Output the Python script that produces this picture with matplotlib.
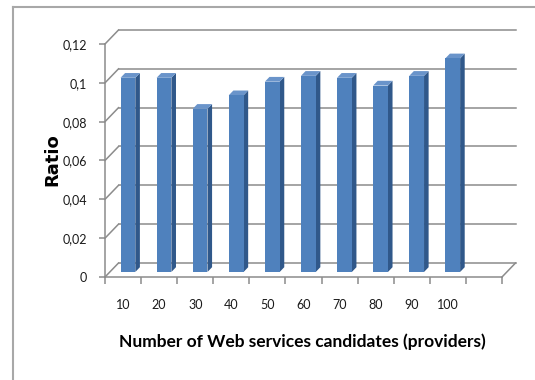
import numpy as np
import matplotlib
matplotlib.use("Agg")
import matplotlib.pyplot as plt
from matplotlib.patches import Polygon
from matplotlib.lines import Line2D

# data
categories = ["10", "20", "30", "40", "50", "60", "70", "80", "90", "100", ""]
ratio = [0.100, 0.100, 0.084, 0.091, 0.098, 0.101, 0.100, 0.096, 0.101, 0.110]
yticks = [0, 0.02, 0.04, 0.06, 0.08, 0.10, 0.12]
ytick_labels = ["0", "0,02", "0,04", "0,06", "0,08", "0,1", "0,12"]

# colours (Excel 2007 style)
c_front = "#4f81bd"
c_side = "#30588a"
c_top = "#6a94ca"
c_grid = "#8c8c8c"

W, H = 535, 380
fig = plt.figure(figsize=(W / 100, H / 100), dpi=100)
# front plane of the 3d box in pixels: x 105..502, y 277..44
ax = fig.add_axes([105 / W, (H - 277) / H, (502 - 105) / W, (277 - 44) / H])
ncat = len(categories)
ax.set_xlim(0, ncat)
ax.set_ylim(0, 0.12)

# depth of the box in data units
dx = 13.5 * ncat / (502 - 105)
dy = 14 * 0.12 / (277 - 44)

# back wall + side wall gridlines
for v in yticks:
    ax.plot([dx, ncat + dx], [v + dy, v + dy], color=c_grid, lw=1.1, zorder=1, clip_on=False)
    ax.plot([0, dx], [v, v + dy], color=c_grid, lw=1.1, zorder=1, clip_on=False)
# right edge of the floor
ax.plot([ncat, ncat + dx], [0, dy], color=c_grid, lw=1.1, zorder=1, clip_on=False)

# bars: front face, side and top
f0, f1 = 0.36, 0.70
bw = 0.41
x = np.arange(len(ratio)) + 0.5
ox, oy = f0 * dx, f0 * dy
ddx, ddy = (f1 - f0) * dx, (f1 - f0) * dy
ax.bar(x + ox, ratio, width=bw, bottom=oy, color=c_front, zorder=3, clip_on=False)
for xi, v in zip(x, ratio):
    xl = xi + ox - bw / 2
    xr = xi + ox + bw / 2
    b = oy
    side = Polygon([(xr, b), (xr, b + v), (xr + ddx, b + v + ddy), (xr + ddx, b + ddy)],
                   closed=True, facecolor=c_side, edgecolor="none", zorder=2, clip_on=False)
    top = Polygon([(xl, b + v), (xr, b + v), (xr + ddx, b + v + ddy), (xl + ddx, b + v + ddy)],
                  closed=True, facecolor=c_top, edgecolor="none", zorder=2, clip_on=False)
    ax.add_patch(side)
    ax.add_patch(top)

# axes styling
for s in ["top", "right"]:
    ax.spines[s].set_visible(False)
for s in ["left", "bottom"]:
    ax.spines[s].set_color(c_grid)
    ax.spines[s].set_linewidth(1.1)
ax.set_yticks(yticks)
ax.set_yticklabels(ytick_labels, fontfamily="Lato", fontsize=9, color="#1a1a1a")
ax.tick_params(axis="y", length=4, width=1.1, color=c_grid, pad=9)
ax.set_xticks(np.arange(ncat + 1))
ax.set_xticklabels([])
ax.set_xticks(np.arange(ncat) + 0.5, minor=True)
ax.set_xticklabels(categories, minor=True, fontfamily="Lato", fontsize=9, color="#1a1a1a")
ax.tick_params(axis="x", which="major", length=5, width=1.1, color=c_grid)
ax.tick_params(axis="x", which="minor", length=0, pad=16)

ax.set_xlabel("Number of Web services candidates (providers)", fontfamily="Lato",
              fontweight="bold", fontsize=12.5, va="center")
ax.xaxis.set_label_coords((302 - 105) / (502 - 105), (277 - 342) / (277 - 44))
ax.set_ylabel("Ratio", fontfamily="DejaVu Sans", fontweight="bold", fontsize=13, va="center")
ax.yaxis.set_label_coords((52 - 105) / (502 - 105), (277 - 160) / (277 - 44))

# outer chart border (top and left visible)
fig.add_artist(Line2D([13 / W, 1], [1 - 7 / H, 1 - 7 / H], color="#a8a8a8", lw=1.5))
fig.add_artist(Line2D([13 / W, 13 / W], [0, 1 - 7 / H], color="#a8a8a8", lw=1.5))

fig.savefig("out.png", dpi=100)
